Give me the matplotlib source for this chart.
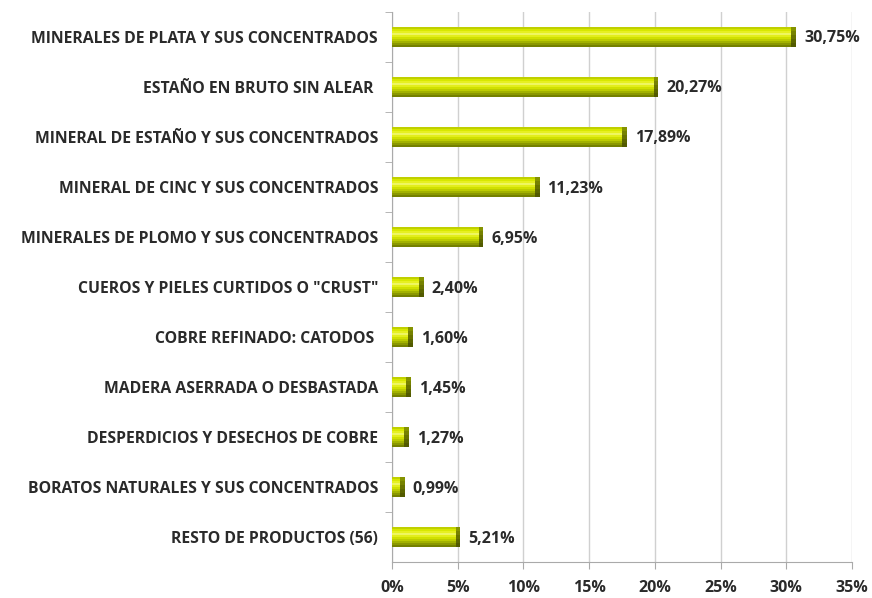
import matplotlib
matplotlib.use("Agg")
import matplotlib.pyplot as plt
from matplotlib.ticker import FuncFormatter, FixedLocator

categories = [
    "MINERALES DE PLATA Y SUS CONCENTRADOS",
    "ESTAÑO EN BRUTO SIN ALEAR ",
    "MINERAL DE ESTAÑO Y SUS CONCENTRADOS",
    "MINERAL DE CINC Y SUS CONCENTRADOS",
    "MINERALES DE PLOMO Y SUS CONCENTRADOS",
    "CUEROS Y PIELES CURTIDOS O \"CRUST\"",
    "COBRE REFINADO: CATODOS ",
    "MADERA ASERRADA O DESBASTADA",
    "DESPERDICIOS Y DESECHOS DE COBRE",
    "BORATOS NATURALES Y SUS CONCENTRADOS",
    "RESTO DE PRODUCTOS (56)",
]
shares = [30.75, 20.27, 17.89, 11.23, 6.95, 2.40, 1.60, 1.45, 1.27, 0.99, 5.21]
x_ticks = [0, 5, 10, 15, 20, 25, 30, 35]

# vertical shading of the bars, top to bottom
bar_shades = ["#c0d000", "#d8e800", "#e6f020", "#eef660", "#e2ee1a",
              "#d0e000", "#bccc00", "#a2b200", "#8a9800", "#748000"]
cap_shades = ["#849200", "#768200", "#687200", "#5c6600", "#525a00"]

plt.rcParams['font.family'] = ['Open Sans', 'DejaVu Sans']

fig = plt.figure(figsize=(8.72, 5.98), dpi=100)
ax = fig.add_axes([0.4495, 0.06, 0.5275, 0.92])

ypos = list(range(len(categories)))
h = 0.4
n = len(bar_shades)
for k, c in enumerate(bar_shades):
    off = -h / 2 + h / n * (k + 0.5)
    ax.barh([y + off for y in ypos], shares, height=h / n * 1.05,
            color=c, linewidth=0, zorder=3)
cap = 0.35
m = len(cap_shades)
for k, c in enumerate(cap_shades):
    off = -h / 2 + h / m * (k + 0.5)
    ax.barh([y + off for y in ypos], [cap] * len(shares),
            left=[s - cap for s in shares], height=h / m * 1.05,
            color=c, linewidth=0, zorder=4)

for y, s in zip(ypos, shares):
    ax.text(s + 0.6, y + 0.03, f"{s:.2f}%".replace(".", ","), va="center",
            ha="left", fontsize=11.5, fontweight="bold", color="#2a2a2a")

ax.set_xlim(0, 35)
ax.set_ylim(len(categories) - 0.5, -0.5)
ax.xaxis.set_major_locator(FixedLocator(x_ticks))
ax.xaxis.set_major_formatter(FuncFormatter(lambda v, p: f"{v:.0f}%"))
ax.set_yticks(ypos)
ax.set_yticklabels(categories, fontsize=11.3, fontweight="bold", color="#2a2a2a")
ax.set_yticks([y + 0.5 for y in ypos[:-1]] + [-0.5], minor=True)
ax.tick_params(axis="y", which="major", length=0, pad=10)
ax.tick_params(axis="y", which="minor", length=5, color="#aaaaaa")
ax.tick_params(axis="x", length=5, color="#aaaaaa", labelsize=11.5,
               labelcolor="#2a2a2a", pad=8)
for lab in ax.get_xticklabels():
    lab.set_fontweight("bold")

ax.grid(axis="x", color="#d0d0d0", linewidth=1, zorder=0)
ax.set_axisbelow(True)
for side in ["top", "right"]:
    ax.spines[side].set_visible(False)
for side in ["left", "bottom"]:
    ax.spines[side].set_color("#aaaaaa")

fig.savefig("out.png", dpi=100)
